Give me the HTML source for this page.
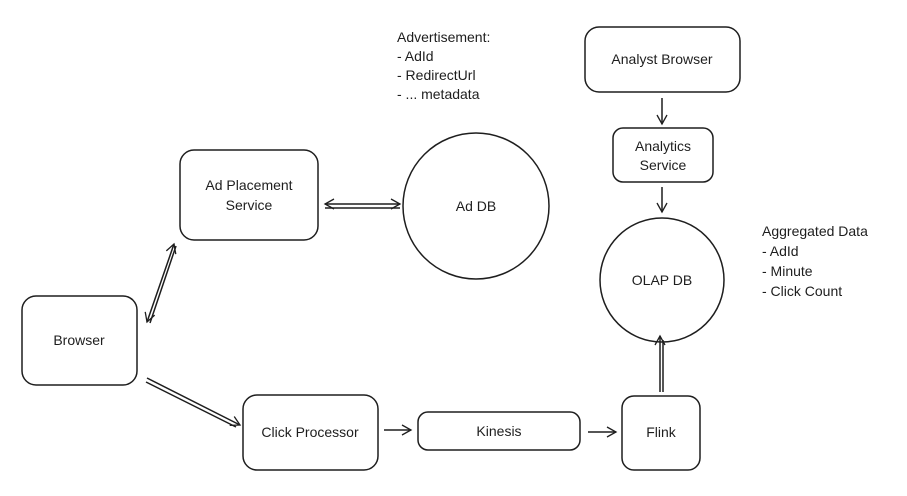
<!DOCTYPE html>
<html><head><meta charset="utf-8"><style>
html,body{margin:0;padding:0;background:#fff;}
svg{display:block}
text{font-family:"Liberation Sans",sans-serif;font-size:14px;fill:#1e1e1e}
</style></head><body>
<svg width="907" height="496" viewBox="0 0 907 496" xmlns="http://www.w3.org/2000/svg">
<defs>
<marker id="a" markerWidth="12" markerHeight="12" refX="10" refY="6" orient="auto-start-reverse" markerUnits="userSpaceOnUse">
<path d="M1,1 L10,6 L1,11" fill="none" stroke="#1e1e1e" stroke-width="1.3"/></marker>
</defs>
<g fill="none" stroke="#1e1e1e" stroke-width="1.5">
<rect x="22" y="296" width="115" height="89" rx="14"/>
<rect x="180" y="150" width="138" height="90" rx="14"/>
<circle cx="476" cy="206" r="73"/>
<rect x="585" y="27" width="155" height="65" rx="14"/>
<rect x="613" y="128" width="100" height="54" rx="10"/>
<circle cx="662" cy="280" r="62"/>
<rect x="243" y="395" width="135" height="75" rx="14"/>
<rect x="418" y="412" width="162" height="38" rx="10"/>
<rect x="622" y="396" width="78" height="74" rx="12"/>
<line x1="325" y1="204" x2="400" y2="204" marker-start="url(#a)" marker-end="url(#a)"/>
<line x1="325" y1="208" x2="400" y2="208"/>
<line x1="147" y1="322" x2="174" y2="244" marker-start="url(#a)" marker-end="url(#a)"/>
<line x1="150" y1="323" x2="176" y2="246"/>
<line x1="147" y1="378" x2="240" y2="425" marker-end="url(#a)"/>
<line x1="146" y1="382" x2="236" y2="427"/>
<line x1="384" y1="430" x2="411" y2="430" marker-end="url(#a)"/>
<line x1="588" y1="432" x2="616" y2="432" marker-end="url(#a)"/>
<line x1="660" y1="392" x2="660" y2="336" marker-end="url(#a)"/>
<line x1="663" y1="392" x2="663" y2="340"/>
<line x1="662" y1="98" x2="662" y2="124" marker-end="url(#a)"/>
<line x1="662" y1="187" x2="662" y2="212" marker-end="url(#a)"/>
</g>
<text x="79" y="345" text-anchor="middle">Browser</text>
<text x="249" y="190" text-anchor="middle">Ad Placement</text>
<text x="249" y="210" text-anchor="middle">Service</text>
<text x="476" y="211" text-anchor="middle">Ad DB</text>
<text x="662" y="64" text-anchor="middle">Analyst Browser</text>
<text x="663" y="151" text-anchor="middle">Analytics</text>
<text x="663" y="170" text-anchor="middle">Service</text>
<text x="662" y="285" text-anchor="middle">OLAP DB</text>
<text x="310" y="437" text-anchor="middle">Click Processor</text>
<text x="499" y="436" text-anchor="middle">Kinesis</text>
<text x="661" y="437" text-anchor="middle">Flink</text>
<text x="397" y="42">Advertisement:</text>
<text x="397" y="61">- AdId</text>
<text x="397" y="80">- RedirectUrl</text>
<text x="397" y="99">- ... metadata</text>
<text x="762" y="236">Aggregated Data</text>
<text x="762" y="256">- AdId</text>
<text x="762" y="276">- Minute</text>
<text x="762" y="296">- Click Count</text>
</svg>
</body></html>
